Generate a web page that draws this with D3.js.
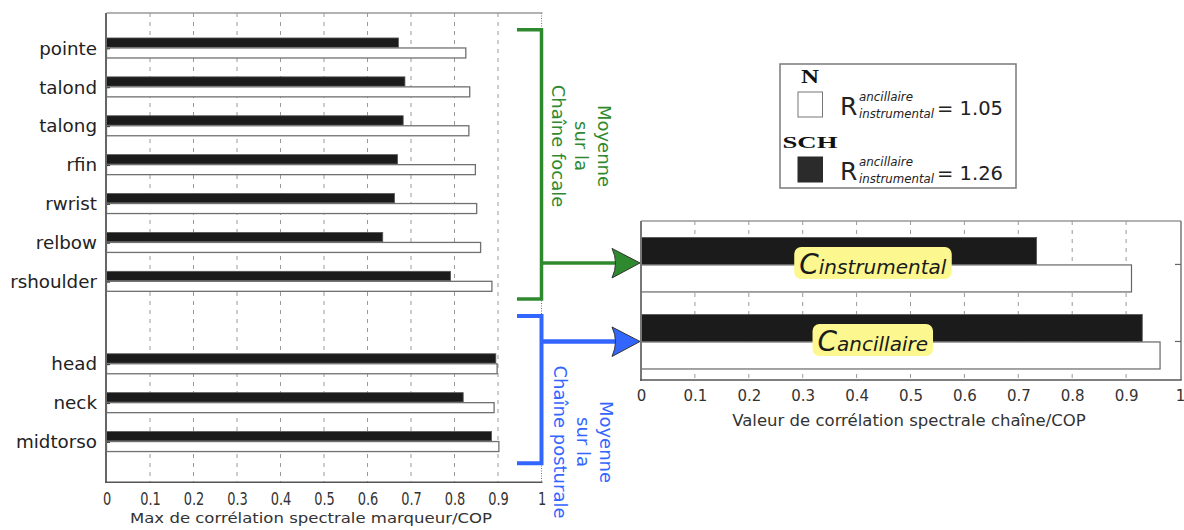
<!DOCTYPE html>
<html><head><meta charset="utf-8">
<script src="https://cdn.jsdelivr.net/npm/d3@7"></script>
<style>
body{margin:0;background:#fff}
svg{display:block}
text{font-family:"DejaVu Sans",sans-serif}
</style>
</head><body>
<svg id="c" width="1184" height="530"></svg>
<script>
// ---------------- data ----------------
const focalCats = ["pointe","talond","talong","rfin","rwrist","relbow","rshoulder"];
const focalSCH  = [0.671,0.686,0.682,0.669,0.662,0.635,0.791];
const focalN    = [0.826,0.835,0.833,0.848,0.851,0.860,0.886];
const posturalCats = ["head","neck","midtorso"];
const posturalSCH  = [0.895,0.820,0.885];
const posturalN    = [0.898,0.891,0.902];
const chainCats = ["instrumental","ancillaire"];
const chainSCH  = [0.734,0.930];
const chainN    = [0.910,0.963];
const xTicks = [0,0.1,0.2,0.3,0.4,0.5,0.6,0.7,0.8,0.9,1];
const legendGroups = ["N","SCH"];
const legendRatios = ["1.05","1.26"];
const focalText = ["Moyenne","sur la","Chaîne focale"];
const posturalText = ["Moyenne","sur la","Chaîne posturale"];
const leftXLabel = "Max de corrélation spectrale marqueur/COP";
const rightXLabel = "Valeur de corrélation spectrale chaîne/COP";

// ---------------- setup ----------------
const svg = d3.select("#c");
const GREEN = "#2f8a2f", BLUE = "#3366ff", DARK = "#1b1b1b", TXT = "#222";

// ---------------- left chart ----------------
const L = {x0:106.5, x1:541.5, top:13, bottom:482.3};
const xL = d3.scaleLinear().domain([0,1]).range([L.x0, L.x1]);
const gapSlots = 1.12;
const leftRows = focalCats.map((c,i)=>({cat:c, slot:i, sch:focalSCH[i], n:focalN[i]}))
  .concat(posturalCats.map((c,j)=>({cat:c, slot:focalCats.length + gapSlots + j, sch:posturalSCH[j], n:posturalN[j]})));
const lastSlot = leftRows[leftRows.length-1].slot;
const yL = d3.scaleLinear().domain([-0.907, lastSlot + 1.04]).range([L.top, L.bottom]);

const gl = svg.append("g");
// grid
gl.selectAll("line.grid").data(xTicks.filter(d=>d>0 && d<1)).enter().append("line")
  .attr("x1",d=>xL(d)).attr("x2",d=>xL(d)).attr("y1",L.top).attr("y2",L.bottom)
  .attr("stroke","#9a9a9a").attr("stroke-width",1).attr("stroke-dasharray","4,5");
gl.append("line").attr("x1",xL(1)).attr("x2",xL(1)).attr("y1",L.top).attr("y2",L.bottom)
  .attr("stroke","#777").attr("stroke-width",1).attr("stroke-dasharray","1,1.5");
gl.append("line").attr("x1",L.x0).attr("x2",L.x1+1).attr("y1",L.top).attr("y2",L.top)
  .attr("stroke","#999").attr("stroke-width",1.5);

// bars
gl.selectAll("rect.sch").data(leftRows).enter().append("rect")
  .attr("x",xL(0)).attr("y",d=>yL(d.slot)-10.3).attr("width",d=>xL(d.sch)-xL(0)).attr("height",9.3)
  .attr("fill",DARK).attr("stroke","#555").attr("stroke-width",0.8);
gl.selectAll("rect.n").data(leftRows).enter().append("rect")
  .attr("x",xL(0)).attr("y",d=>yL(d.slot)-0.3).attr("width",d=>xL(d.n)-xL(0)).attr("height",10)
  .attr("fill","#fff").attr("stroke","#707070").attr("stroke-width",1.3);

// y axis
const yAx = gl.append("g").attr("transform",`translate(${L.x0-0.5},0)`)
  .call(d3.axisLeft(yL).tickValues(leftRows.map(d=>d.slot)).tickFormat((d,i)=>leftRows[i].cat).tickSize(-4).tickPadding(9));
yAx.select(".domain").remove();
yAx.selectAll(".tick line").attr("stroke","#444").attr("stroke-width",1.2);
yAx.selectAll(".tick text").attr("font-size",18.3).attr("fill",TXT).attr("font-family","DejaVu Sans");
gl.append("line").attr("x1",L.x0-0.5).attr("x2",L.x0-0.5).attr("y1",L.top).attr("y2",L.bottom+0.7)
  .attr("stroke","#666").attr("stroke-width",2);

// x axis
const xAx = gl.append("g").attr("transform",`translate(0,${L.bottom})`)
  .call(d3.axisBottom(xL).tickValues(xTicks).tickFormat(d=>String(d)).tickSize(0).tickPadding(10));
xAx.select(".domain").remove();
xAx.selectAll(".tick text").attr("font-size",18).attr("fill","#333").attr("font-family","DejaVu Sans")
  .attr("transform","scale(0.72,1)");
gl.append("line").attr("x1",L.x0-1.5).attr("x2",L.x1+1).attr("y1",L.bottom).attr("y2",L.bottom)
  .attr("stroke","#555").attr("stroke-width",1.5);
gl.append("text").attr("x",311).attr("y",523).attr("text-anchor","middle").attr("font-size",14)
  .attr("fill","#333").attr("textLength",362).attr("lengthAdjust","spacingAndGlyphs").text(leftXLabel);

// ---------------- right chart ----------------
const R = {x0:641, x1:1180, top:221, bottom:380};
const xR = d3.scaleLinear().domain([0,1]).range([R.x0, R.x1]);
const yR = d3.scalePoint().domain(chainCats).range([R.top, R.bottom]).padding(0.532).align(0.53);
const chainRows = chainCats.map((c,i)=>({cat:c, sch:chainSCH[i], n:chainN[i]}));
const gr = svg.append("g");
gr.selectAll("line.grid").data(xTicks.filter(d=>d>0 && d<1)).enter().append("line")
  .attr("x1",d=>xR(d)).attr("x2",d=>xR(d)).attr("y1",R.top).attr("y2",R.bottom)
  .attr("stroke","#9a9a9a").attr("stroke-width",1).attr("stroke-dasharray","4,5");
gr.append("line").attr("x1",R.x0).attr("x2",R.x1+1).attr("y1",R.top).attr("y2",R.top).attr("stroke","#999").attr("stroke-width",1.5);
gr.append("line").attr("x1",R.x1+1).attr("x2",R.x1+1).attr("y1",R.top).attr("y2",R.bottom).attr("stroke","#777").attr("stroke-width",1.5);
gr.selectAll("rect.sch").data(chainRows).enter().append("rect")
  .attr("x",xR(0)).attr("y",d=>yR(d.cat)-27).attr("width",d=>xR(d.sch)-xR(0)).attr("height",27)
  .attr("fill",DARK).attr("stroke","#555").attr("stroke-width",0.8);
gr.selectAll("rect.n").data(chainRows).enter().append("rect")
  .attr("x",xR(0)).attr("y",d=>yR(d.cat)+0.5).attr("width",d=>xR(d.n)-xR(0)).attr("height",27)
  .attr("fill","#fff").attr("stroke","#666").attr("stroke-width",1.2);
gr.selectAll("line.ytick").data(chainCats).enter().append("line")
  .attr("x1",R.x1-5).attr("x2",R.x1+1).attr("y1",d=>yR(d)).attr("y2",d=>yR(d)).attr("stroke","#666").attr("stroke-width",1.2);
gr.append("line").attr("x1",R.x0).attr("x2",R.x0).attr("y1",R.top).attr("y2",R.bottom+0.7).attr("stroke","#777").attr("stroke-width",2);
const xAxR = gr.append("g").attr("transform",`translate(0,${R.bottom})`)
  .call(d3.axisBottom(xR).tickValues(xTicks).tickFormat(d=>String(d)).tickSize(0).tickPadding(10));
xAxR.select(".domain").remove();
xAxR.selectAll(".tick text").attr("font-size",15).attr("fill","#333").attr("font-family","DejaVu Sans");
gr.append("line").attr("x1",R.x0-1).attr("x2",R.x1+1.7).attr("y1",R.bottom).attr("y2",R.bottom).attr("stroke","#555").attr("stroke-width",1.5);
gr.append("text").attr("x",909).attr("y",426).attr("text-anchor","middle").attr("font-size",16.5)
  .attr("fill","#333").text(rightXLabel);

// chain name labels
chainCats.forEach(c=>{
  const g = gr.append("g");
  const t = g.append("text").attr("x",xR(0.43)).attr("y",yR(c)+10).attr("text-anchor","middle").attr("fill","#1a1a1a")
    .attr("font-style","italic");
  t.append("tspan").attr("font-size",28).text("C");
  t.append("tspan").attr("font-size",20).text(c);
  const bb = t.node().getBBox();
  g.insert("rect","text").attr("x",bb.x-5).attr("y",bb.y-1.5).attr("width",bb.width+10).attr("height",bb.height-1)
    .attr("rx",7).attr("fill","#fcf78f");
});

// ---------------- brackets & arrows ----------------
const ga = svg.append("g");
function bracket(y1,y2,color,w){
  ga.append("path").attr("d",`M517,${y1}H${xL(1)}V${y2}H517`).attr("fill","none").attr("stroke",color).attr("stroke-width",w);
}
function arrow(y,color,w){
  const tx = xR(0)-1;
  ga.append("line").attr("x1",xL(1)).attr("x2",tx-20).attr("y1",y).attr("y2",y).attr("stroke",color).attr("stroke-width",w);
  ga.append("path").attr("d",`M${tx},${y}L${tx-28},${y-14.5}Q${tx-21},${y} ${tx-28},${y+15}Z`)
    .attr("fill",color).attr("stroke","#333").attr("stroke-width",1);
}
const focalTop = yL(0)-18.5, focalBot = yL(focalCats.length-1)+17.5;
const postTop = yL(focalCats.length-1)+34.5, postBot = yL(lastSlot)+21.5;
bracket(focalTop, focalBot, GREEN, 3.5);
bracket(postTop, postBot, BLUE, 4);
arrow(yR("instrumental")-1.5, GREEN, 3.5);
arrow(yR("ancillaire"), BLUE, 4.5);

function vtext(lines, x, y, color){
  const t = ga.append("text").attr("transform",`translate(${x},${y}) rotate(90)`).attr("text-anchor","middle")
    .attr("font-size",18).attr("fill",color);
  lines.forEach((s,i)=>t.append("tspan").attr("x",0).attr("y",i*23).text(s));
}
vtext(focalText, 598, 146, GREEN);
vtext(posturalText, 600, 442, BLUE);

// ---------------- legend ----------------
const lg = svg.append("g");
lg.append("rect").attr("x",780).attr("y",64).attr("width",236).attr("height",124)
  .attr("fill","#fff").attr("stroke","#7a7a7a").attr("stroke-width",1.5);
legendGroups.forEach((name,i)=>{
  const oy = i*65;
  lg.append("text").attr("x",810).attr("y",83.3+oy).attr("text-anchor","middle")
    .style("font-family","'Liberation Serif','DejaVu Serif',serif").attr("font-weight","bold").attr("font-size",i===0?18:17)
    .attr("fill","#111").attr("textLength",i===0?18:55).attr("lengthAdjust","spacingAndGlyphs").text(name);
  lg.append("rect").attr("x",798).attr("y",92+oy).attr("width",24.5).attr("height",25)
    .attr("fill",i===0?"#fff":"#2b2b2b").attr("stroke",i===0?"#777":"#2b2b2b").attr("stroke-width",1);
  lg.append("text").attr("x",840).attr("y",115+oy).attr("font-size",25).attr("fill",TXT).text("R");
  lg.append("text").attr("x",859).attr("y",100.5+oy).attr("font-size",12).attr("font-style","italic").attr("fill",TXT)
    .attr("textLength",54).attr("lengthAdjust","spacingAndGlyphs").text("ancillaire");
  lg.append("text").attr("x",859).attr("y",118+oy).attr("font-size",12).attr("font-style","italic").attr("fill",TXT)
    .attr("textLength",75).attr("lengthAdjust","spacingAndGlyphs").text("instrumental");
  lg.append("text").attr("x",937).attr("y",115+oy).attr("font-size",19.5).attr("fill",TXT).text("= " + legendRatios[i]);
});
</script>
</body></html>
